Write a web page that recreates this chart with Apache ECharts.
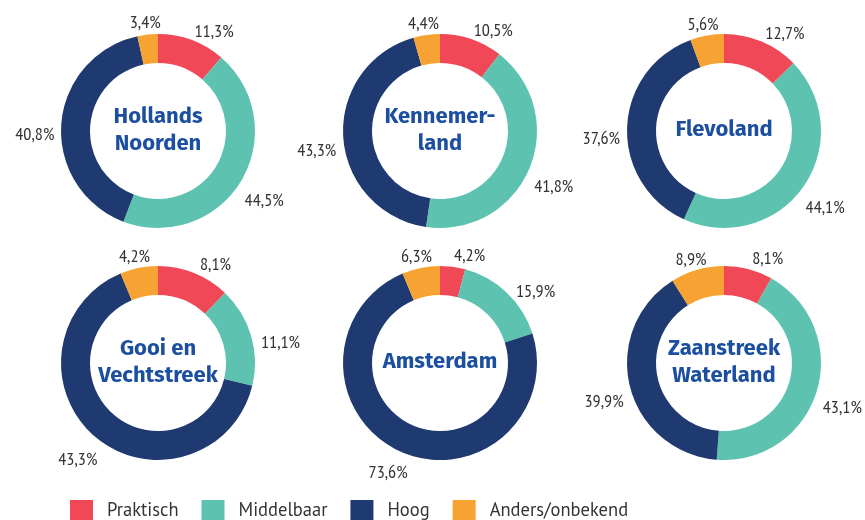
<!DOCTYPE html>
<html>
<head>
<meta charset="UTF-8">
<title>Opleidingsniveau per regio</title>
<script src="https://cdn.jsdelivr.net/npm/echarts@6/dist/echarts.min.js"></script>
<style>
* { margin: 0; padding: 0; }
body { background: #fff; }
#main { width: 865px; height: 520px; }
</style>
</head>
<body>
<div id="main"></div>
<script>
// categorieen en waarden per regio (in %)
var categories = ['Praktisch', 'Middelbaar', 'Hoog', 'Anders/onbekend'];
var regions = ['Hollands\nNoorden', 'Kennemer-\nland', 'Flevoland', 'Gooi en\nVechtstreek', 'Amsterdam', 'Zaanstreek\nWaterland'];
var hollandsNoorden = [11.3, 44.5, 40.8, 3.4];
var kennemerland = [10.5, 41.8, 43.3, 4.4];
var flevoland = [12.7, 44.1, 37.6, 5.6];
var gooiVechtstreek = [8.1, 11.1, 43.3, 4.2];
var amsterdam = [4.2, 15.9, 73.6, 6.3];
var zaanstreekWaterland = [8.1, 43.1, 39.9, 8.9];
var regionValues = [hollandsNoorden, kennemerland, flevoland, gooiVechtstreek, amsterdam, zaanstreekWaterland];

var colors = ['#f04856', '#5dc3b0', '#1f3a70', '#f7a333'];
var centers = [[158, 131], [440, 131], [724, 131], [158, 363], [440, 363], [724, 363]];
var R = 97, R0 = 68;

var chart = echarts.init(document.getElementById('main'));

// labels net buiten de ring, gecentreerd langs de middenhoek
function outerLabels(vals, c) {
	var total = vals.reduce(function (a, b) { return a + b; }, 0);
	return function (p) {
		var before = 0;
		for (var i = 0; i < p.dataIndex; i++) before += vals[i];
		var ang = (before + vals[p.dataIndex] / 2) / total * 2 * Math.PI;
		var ux = Math.sin(ang), uy = -Math.cos(ang);
		var d = R + 7;
		// rechtsboven iets verder naar rechts, zijlabels iets lager
		var dx = (ux > 0 && uy < 0) ? -uy * 14 : 0;
		var dy = 4 + 8 * (1 - Math.pow(uy, 6));
		return {
			x: c[0] + ux * d + ux * p.labelRect.width / 2 + dx,
			y: c[1] + uy * d + uy * p.labelRect.height / 2 + dy,
			align: 'center',
			verticalAlign: 'middle'
		};
	};
}

var series = regionValues.map(function (vals, k) {
	return {
		type: 'pie',
		center: centers[k],
		radius: [R0, R],
		startAngle: 90,
		clockwise: true,
		silent: true,
		data: vals.map(function (v, i) {
			return { name: categories[i], value: v };
		}),
		label: {
			show: true,
			position: 'outside',
			fontFamily: '"PT Sans Narrow", sans-serif',
			fontSize: 18,
			color: '#333',
			overflow: 'none',
			formatter: function (p) {
				return p.value.toFixed(1).replace('.', ',') + '%';
			}
		},
		labelLine: { show: false },
		labelLayout: outerLabels(vals, centers[k])
	};
});

var titles = regions.map(function (name, k) {
	return {
		type: 'text',
		x: centers[k][0],
		y: centers[k][1] - 1,
		silent: true,
		style: {
			text: name,
			fill: '#1c4fa0',
			font: 'bold 22px "Fira Sans", sans-serif',
			lineHeight: 27,
			textAlign: 'center',
			textVerticalAlign: 'middle'
		}
	};
});

chart.setOption({
	animation: false,
	color: colors,
	legend: {
		data: categories,
		icon: 'rect',
		left: 70,
		top: 500,
		padding: 0,
		itemWidth: 23,
		itemHeight: 21,
		itemGap: 23,
		textStyle: {
			fontFamily: '"PT Sans", sans-serif',
			fontSize: 18.5,
			color: '#333',
			padding: [0, 0, 0, 9]
		}
	},
	graphic: titles,
	series: series
});
</script>
</body>
</html>
